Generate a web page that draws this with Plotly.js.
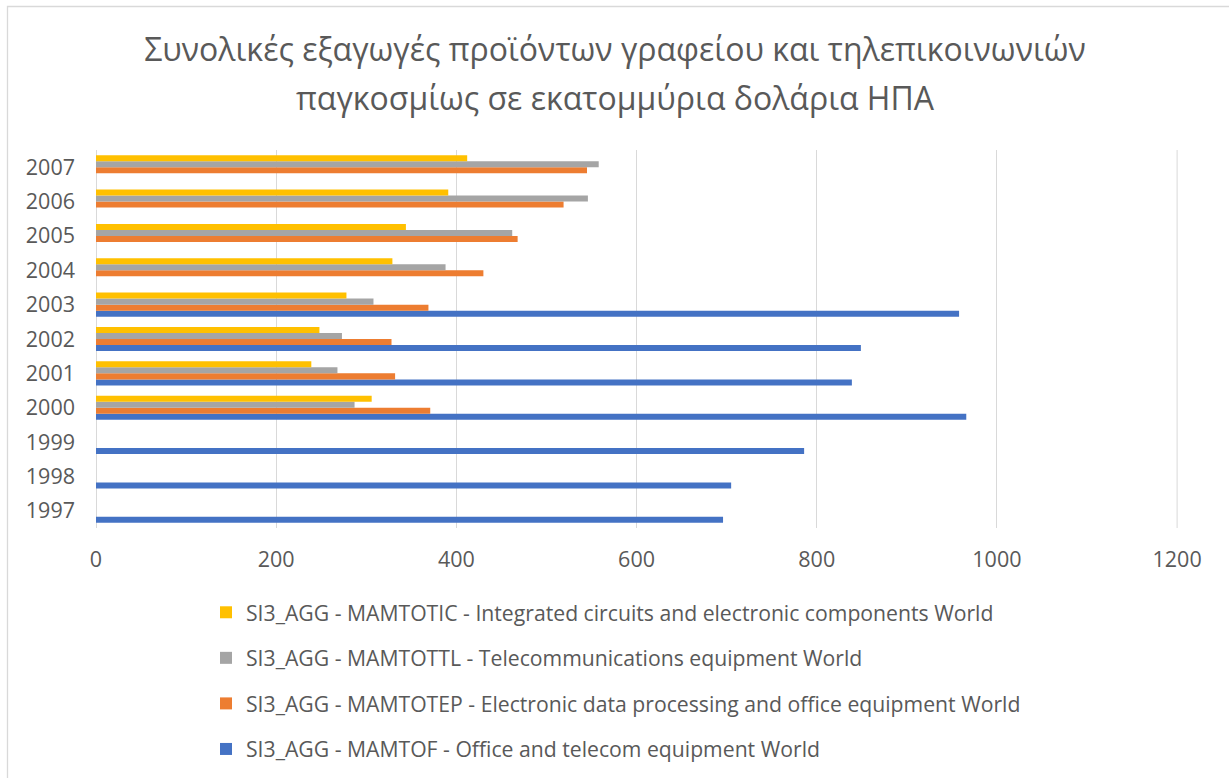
<!DOCTYPE html>
<html>
<head>
<meta charset="utf-8">
<script src="https://cdn.plot.ly/plotly-3.0.1.min.js"></script>
<style>html,body{margin:0;padding:0;background:#fff;}#chart{width:1229px;height:778px;}</style>
</head>
<body>
<div id="chart"></div>
<script>
const years = ['1997','1998','1999','2000','2001','2002','2003','2004','2005','2006','2007'];
const officeTelecom = [696, 705, 786, 966, 839, 849, 958, null, null, null, null];
const dataProcessing = [null, null, null, 371, 332, 328, 369, 430, 468, 519, 545];
const telecomEquip = [null, null, null, 287, 268, 273, 308, 388, 462, 546, 558];
const integratedCircuits = [null, null, null, 306, 239, 248, 278, 329, 344, 391, 412];
const seriesNames = [
  'SI3_AGG - MAMTOF - Office and telecom equipment World',
  'SI3_AGG - MAMTOTEP - Electronic data processing and office equipment World',
  'SI3_AGG - MAMTOTTL - Telecommunications equipment World',
  'SI3_AGG - MAMTOTIC - Integrated circuits and electronic components World'
];
const seriesColors = ['#4472C4', '#ED7D31', '#A5A5A5', '#FFC000'];
const titleLine1 = 'Συνολικές εξαγωγές προϊόντων γραφείου και τηλεπικοινωνιών';
const titleLine2 = 'παγκοσμίως σε εκατομμύρια δολάρια ΗΠΑ';
const axisMax = 1200;

const seriesValues = [officeTelecom, dataProcessing, telecomEquip, integratedCircuits];
const traces = seriesValues.map((vals, i) => ({
  type: 'bar',
  orientation: 'h',
  x: vals,
  y: years,
  name: seriesNames[i],
  legendgroup: 'g' + i,
  legendrank: 1000 - i,
  marker: {color: seriesColors[i]},
  hoverinfo: 'x+y+name'
}));

const W = 1229, H = 778;
const mL = 96, mR = W - 1178, mT = 150, mB = H - 528;
const pw = W - mL - mR, ph = H - mT - mB;
const px2x = p => (p - mL) / pw;
const py2y = p => (H - mB - p) / ph;

const textColor = '#595959';
const fontFam = '"Open Sans", "Noto Sans", sans-serif';

const layout = {
  width: W, height: H,
  margin: {l: mL, r: mR, t: mT, b: mB, pad: 0, autoexpand: false},
  paper_bgcolor: '#ffffff',
  plot_bgcolor: '#ffffff',
  font: {family: fontFam, color: textColor, size: 21},
  title: {
    text: titleLine1,
    font: {family: fontFam, size: 32, color: textColor},
    x: 615 / W, xanchor: 'center',
    yref: 'container', y: 1 - 50 / H, yanchor: 'middle'
  },
  annotations: [{
    text: titleLine2,
    showarrow: false,
    xref: 'paper', yref: 'paper',
    x: px2x(615), y: py2y(97),
    xanchor: 'center', yanchor: 'middle',
    font: {family: fontFam, size: 32, color: textColor}
  }],
  barmode: 'group',
  bargap: 0.30,
  bargroupgap: 0,
  xaxis: {
    range: [0, axisMax + 1],
    dtick: 200, tick0: 0,
    showgrid: true, gridcolor: '#d9d9d9', gridwidth: 1,
    zeroline: true, zerolinecolor: '#d9d9d9', zerolinewidth: 1,
    showline: false, ticks: '',
    ticklabelstandoff: 16,
    tickfont: {family: fontFam, size: 21.5, color: textColor},
    fixedrange: true
  },
  yaxis: {
    type: 'category',
    categoryorder: 'array', categoryarray: years,
    showgrid: false, zeroline: false, showline: false, ticks: '',
    ticklabelstandoff: 20,
    tickfont: {family: fontFam, size: 21.5, color: textColor},
    fixedrange: true
  },
  legend: {
    orientation: 'v',
    traceorder: 'grouped',
    tracegroupgap: 15,
    x: px2x(206), xanchor: 'left',
    yref: 'container',
    y: 1 - 592 / H, yanchor: 'top',
    font: {family: fontFam, size: 21.2, color: textColor},
    bgcolor: 'rgba(0,0,0,0)'
  },
  shapes: [{
    type: 'rect', xref: 'paper', yref: 'paper',
    x0: px2x(7.5), x1: px2x(1300), y0: py2y(6.5), y1: py2y(900),
    line: {color: '#d9d9d9', width: 1.3},
    fillcolor: 'rgba(0,0,0,0)',
    layer: 'below'
  }, {
    type: 'line', xref: 'x', yref: 'paper',
    x0: axisMax, x1: axisMax, y0: 0, y1: 1,
    line: {color: '#d9d9d9', width: 1},
    layer: 'below'
  }],
  showlegend: true
};

Plotly.newPlot('chart', traces, layout, {displayModeBar: false, staticPlot: true});
</script>
</body>
</html>
